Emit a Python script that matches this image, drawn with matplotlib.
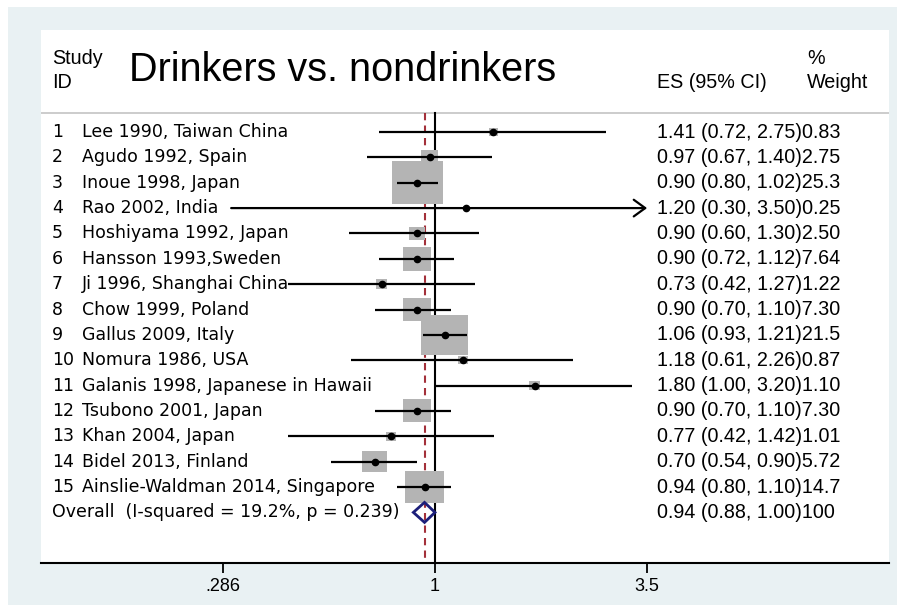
import numpy as np
import matplotlib
matplotlib.use("Agg")
import matplotlib.pyplot as plt
from matplotlib.patches import Rectangle, Polygon
from matplotlib.transforms import blended_transform_factory

# estudios: etiqueta, ES, IC 95% y peso (%)
ids = [str(i) for i in range(1, 16)]
estudios = ["Lee 1990, Taiwan China", "Agudo 1992, Spain", "Inoue 1998, Japan",
            "Rao 2002, India", "Hoshiyama 1992, Japan", "Hansson 1993,Sweden",
            "Ji 1996, Shanghai China", "Chow 1999, Poland", "Gallus 2009, Italy",
            "Nomura 1986, USA", "Galanis 1998, Japanese in Hawaii",
            "Tsubono 2001, Japan", "Khan 2004, Japan", "Bidel 2013, Finland",
            "Ainslie-Waldman 2014, Singapore"]
es = [1.41, 0.97, 0.90, 1.20, 0.90, 0.90, 0.73, 0.90, 1.06, 1.18, 1.80, 0.90, 0.77, 0.70, 0.94]
ic_inf = [0.72, 0.67, 0.80, 0.30, 0.60, 0.72, 0.42, 0.70, 0.93, 0.61, 1.00, 0.70, 0.42, 0.54, 0.80]
ic_sup = [2.75, 1.40, 1.02, 3.50, 1.30, 1.12, 1.27, 1.10, 1.21, 2.26, 3.20, 1.10, 1.42, 0.90, 1.10]
pesos = ["0.83", "2.75", "25.3", "0.25", "2.50", "7.64", "1.22", "7.30", "21.5",
         "0.87", "1.10", "7.30", "1.01", "5.72", "14.7"]

# resultado global
global_etiqueta = "Overall  (I-squared = 19.2%, p = 0.239)"
global_es, global_inf, global_sup, global_peso = 0.94, 0.88, 1.00, "100"

ticks = [0.286, 1, 3.5]
tick_labels = [".286", "1", "3.5"]

W, H = 897, 605
X1, PX_LN = 435.0, 169.3          # pixel de x=1 y pixeles por unidad ln
FILA0, PASO = 132.0, 25.36        # pixel de la fila 1 y separacion entre filas
PANEL = (41, 30, 889, 563)        # izq, arriba, der, abajo


def fx(px):
    return px / W


def fy(py):
    return 1 - py / H


def fila(py):
    return (py - FILA0) / PASO + 1


fig = plt.figure(figsize=(W / 100, H / 100), dpi=100, facecolor="white")
fig.add_artist(Rectangle((fx(8), 0), 1 - fx(8), fy(7), transform=fig.transFigure,
                         facecolor="#e9f1f3", edgecolor="none", zorder=-10))

izq, arr, der, aba = PANEL
ax = fig.add_axes([fx(izq), fy(aba), fx(der - izq), (aba - arr) / H])
ax.set_facecolor("white")
ax.set_xscale("log")
ax.set_xlim(np.exp((izq - X1) / PX_LN), np.exp((der - X1) / PX_LN))
ax.set_ylim(fila(aba), fila(arr))
for s in ["top", "left", "right"]:
    ax.spines[s].set_visible(False)
ax.spines["bottom"].set_linewidth(1.5)
ax.set_yticks([])
ax.set_xticks(ticks)
ax.set_xticklabels(tick_labels)
ax.xaxis.set_minor_locator(matplotlib.ticker.NullLocator())
ax.tick_params(axis="x", direction="out", length=7, width=1.3, pad=4,
               labelsize=13)
for t in ax.get_xticklabels():
    t.set_fontfamily("Liberation Sans")

sep = fila(113)
ax.axhline(sep, color="#c4c4c4", lw=1.2, zorder=1)
ax.plot([1, 1], [sep, fila(aba)], color="black", lw=1.5, zorder=1)
ax.plot([global_es, global_es], [sep, fila(aba)], color="#a3303a", lw=1.5,
        ls=(0, (3.5, 2.5)), zorder=1)

n = len(es)
filas = np.arange(1, n + 1)
k_caja = 10.14  # ancho de caja en px por sqrt(peso)
for y, e, lo, hi, p in zip(filas, es, ic_inf, ic_sup, pesos):
    ancho = k_caja * np.sqrt(float(p))
    alto = 0.84 * ancho
    hw = ancho / 2 / PX_LN
    ax.add_patch(Rectangle((e * np.exp(-hw), y - alto / 2 / PASO),
                           e * np.exp(hw) - e * np.exp(-hw), alto / PASO,
                           facecolor="#b4b4b4", edgecolor="none", zorder=2))
    if hi >= ticks[-1]:
        ax.annotate("", xy=(hi, y), xytext=(lo, y),
                    arrowprops=dict(arrowstyle="->,head_length=0.55,head_width=0.4",
                                    lw=1.6, color="black", shrinkA=0, shrinkB=0,
                                    mutation_scale=15), zorder=3)
    else:
        ax.plot([lo, hi], [y, y], color="black", lw=1.6, zorder=3,
                solid_capstyle="butt")
    ax.plot(e, y, "o", color="black", ms=4.5, zorder=4)

yg = n + 1
hd = 10 / PASO
ax.add_patch(Polygon([(global_inf, yg), (global_es, yg - hd), (global_sup, yg),
                      (global_es, yg + hd)], closed=True, facecolor="none",
                     edgecolor="#1c1f7a", lw=2, zorder=3))

# columnas de texto
tr = blended_transform_factory(fig.transFigure, ax.transData)
for y, i, nombre, e, lo, hi, p in zip(filas, ids, estudios, es, ic_inf, ic_sup, pesos):
    ax.text(fx(52), y, i, transform=tr, va="center", ha="left",
            fontsize=12.5, family="DejaVu Sans")
    ax.text(fx(82), y, nombre, transform=tr, va="center", ha="left",
            fontsize=12.5, family="DejaVu Sans")
    ax.text(fx(657), y, f"{e:.2f} ({lo:.2f}, {hi:.2f}){p}", transform=tr,
            va="center", ha="left", fontsize=14.2, family="Liberation Sans")
ax.text(fx(52), yg, global_etiqueta, transform=tr, va="center", ha="left",
        fontsize=12.5, family="DejaVu Sans")
ax.text(fx(657), yg, f"{global_es:.2f} ({global_inf:.2f}, {global_sup:.2f}){global_peso}",
        transform=tr, va="center", ha="left", fontsize=14.2, family="Liberation Sans")

# encabezados
enc = dict(fontsize=14.2, family="Liberation Sans", va="center", ha="left")
fig.text(fx(52), fy(58), "Study", **enc)
fig.text(fx(52), fy(83), "ID", **enc)
fig.text(fx(657), fy(83), "ES (95% CI)", **enc)
fig.text(fx(807), fy(58), "%", **enc)
fig.text(fx(807), fy(83), "Weight", **enc)
fig.text(fx(129), fy(70), "Drinkers vs. nondrinkers", fontsize=28.5,
         family="Liberation Sans", va="center", ha="left")

fig.savefig("out.png", dpi=100, facecolor="white")
